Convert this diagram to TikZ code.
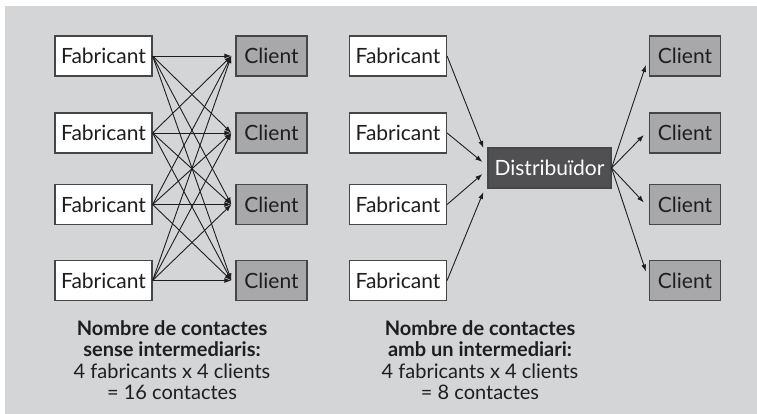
\documentclass[tikz,border=0pt]{standalone}
\usepackage{fontspec}
\setmainfont{Lato}
\usetikzlibrary{arrows.meta,calc}
\definecolor{bg}{RGB}{212,213,215}
\definecolor{clientfill}{RGB}{168,168,170}
\definecolor{distfill}{RGB}{80,80,82}
\definecolor{edge}{RGB}{70,70,70}
\definecolor{ink}{RGB}{30,30,30}
\tikzset{
  box/.style={draw=edge, line width=1.2pt, inner sep=0pt, minimum height=40pt,
    font=\fontsize{21}{24}\selectfont, text=ink},
  fab/.style={box, fill=white, minimum width=97pt},
  cli/.style={box, fill=clientfill, minimum width=71pt},
  dist/.style={box, fill=distfill, minimum width=123pt, text=white},
  arr/.style={draw=ink, line width=0.9pt, -{Latex[length=7pt,width=5pt]}},
  caption/.style={align=center, inner sep=0pt, text=ink, font=\fontsize{20}{21.5}\selectfont}
}
\begin{document}
\begin{tikzpicture}[x=1pt,y=-1pt]
\useasboundingbox (0,0) rectangle (757,414);
\fill[bg] (5,6) rectangle (757,414);
% left diagram
\foreach \i/\y in {1/56,2/133,3/204.5,4/280.5}{
  \node[fab] (lf\i) at (103.5,\y) {Fabricant};
  \node[cli] (lc\i) at (271.5,\y) {Client};
}
\foreach \i in {1,...,4}{
  \foreach \j in {1,...,4}{
    \draw[arr] (lf\i.east) -- ($(lc\j.west)+(-4,0)$);
  }
}
% right diagram
\foreach \i/\y in {1/56,2/133,3/204.5,4/280.5}{
  \node[fab] (rf\i) at (398,\y) {Fabricant};
  \node[cli] (rc\i) at (685,\y) {Client};
}
\node[dist] (d) at (549.5,168) {Distribuïdor};
\draw[arr] (rf1.east) -- ($(d.west)+(-4,-20)$);
\draw[arr] (rf2.east) -- ($(d.west)+(-5,-6)$);
\draw[arr] (rf3.east) -- ($(d.west)+(-5,6)$);
\draw[arr] (rf4.east) -- ($(d.west)+(-4,24)$);
\draw[arr] (d.east) -- ($(rc1.west)+(-3,9)$);
\draw[arr] (d.east) -- ($(rc2.west)+(-5,2)$);
\draw[arr] (d.east) -- ($(rc3.west)+(-5,-2)$);
\draw[arr] (d.east) -- ($(rc4.west)+(-3,-9)$);
% captions
\node[caption, anchor=north] (capl) at (172,320) {\textbf{Nombre de contactes}\\\textbf{sense intermediaris:}\\4 fabricants x 4 clients\\= 16 contactes};
\node[caption, anchor=north] (capr) at (480,320) {\textbf{Nombre de contactes}\\\textbf{amb un intermediari:}\\4 fabricants x 4 clients\\= 8 contactes};
\end{tikzpicture}
\end{document}
